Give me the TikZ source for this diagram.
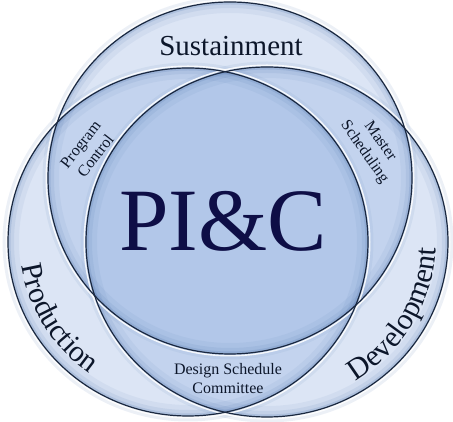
\documentclass[tikz,border=0pt]{standalone}
\usepackage{fontspec}
\setmainfont{Liberation Serif}
\usetikzlibrary{decorations.text}
\definecolor{edge}{RGB}{26,40,64}
\definecolor{basefill}{RGB}{140,172,222}
\definecolor{glowc}{RGB}{78,115,172}
\definecolor{ink}{RGB}{12,22,42}
\definecolor{pidark}{RGB}{14,14,70}
\begin{document}
\begin{tikzpicture}[x=1pt,y=1pt,
  lbl/.style={text=ink, font=\fontsize{16}{19}\selectfont, align=center},
  big/.style={text=ink, font=\fontsize{29}{29}\selectfont},
  pifont/.style={font=\fontsize{89}{89}\selectfont}]
\useasboundingbox (0,0) rectangle (453,422);
\fill[white] (0,0) rectangle (453,422);
\coordinate (T) at (230,244);
\coordinate (L) at (188,180);
\coordinate (R) at (267,180);
% soft outer shadow
\foreach \c/\rx/\ry/\hx/\hy in {T/182/176/185/179, L/180/174/183/177, R/181/175/184/178}{
  \draw[glowc, line width=5pt, opacity=0.10] (\c) ellipse[x radius=\hx, y radius=\hy];
}
% fills
\foreach \c/\rx/\ry in {T/182/176, L/180/174, R/181/175}{
  \fill[basefill, fill opacity=0.3] (\c) ellipse[x radius=\rx, y radius=\ry];
}
% inner glows
\foreach \c/\rx/\ry in {T/182/176, L/180/174, R/181/175}{
  \begin{scope}
    \clip (\c) ellipse[x radius=\rx, y radius=\ry];
    \draw[glowc, line width=22pt, opacity=0.07] (\c) ellipse[x radius=\rx, y radius=\ry];
    \draw[glowc, line width=12pt, opacity=0.10] (\c) ellipse[x radius=\rx, y radius=\ry];
    \draw[glowc, line width=5pt, opacity=0.18] (\c) ellipse[x radius=\rx, y radius=\ry];
  \end{scope}
}
% highlights and edges
\foreach \c/\rx/\ry/\hx/\hy in {T/182/176/183.8/177.8, L/180/174/181.8/175.8, R/181/175/182.8/176.8}{
  \draw[white, line width=1.4pt, opacity=0.85] (\c) ellipse[x radius=\hx, y radius=\hy];
}
\foreach \c/\rx/\ry in {T/182/176, L/180/174, R/181/175}{
  \draw[edge, line width=1.2pt] (\c) ellipse[x radius=\rx, y radius=\ry];
}
% labels
\node[big] (sus) at (231,376) {Sustainment};
\path[decorate, decoration={text along path, text align=center,
  text={|\fontsize{30}{30}\selectfont\color{ink}|Production}}]
  (L) ++(171:168 and 162) arc[start angle=171, end angle=251, x radius=168, y radius=162];
\path[decorate, decoration={text along path, text align=center,
  text={|\fontsize{30}{30}\selectfont\color{ink}|Development}}]
  (R) ++(-75:169 and 163) arc[start angle=-75, end angle=15, x radius=169, y radius=163];
\node[lbl, rotate=52] (pc) at (88,272) {Program\\Control};
\node[lbl, rotate=-55] (ms) at (372,275) {Master\\Scheduling};
\node[lbl] (dsc) at (228,43) {Design Schedule\\Committee};
\node[pifont, text=pidark] (pic) at (223,201) {PI\&C};
\end{tikzpicture}
\end{document}
